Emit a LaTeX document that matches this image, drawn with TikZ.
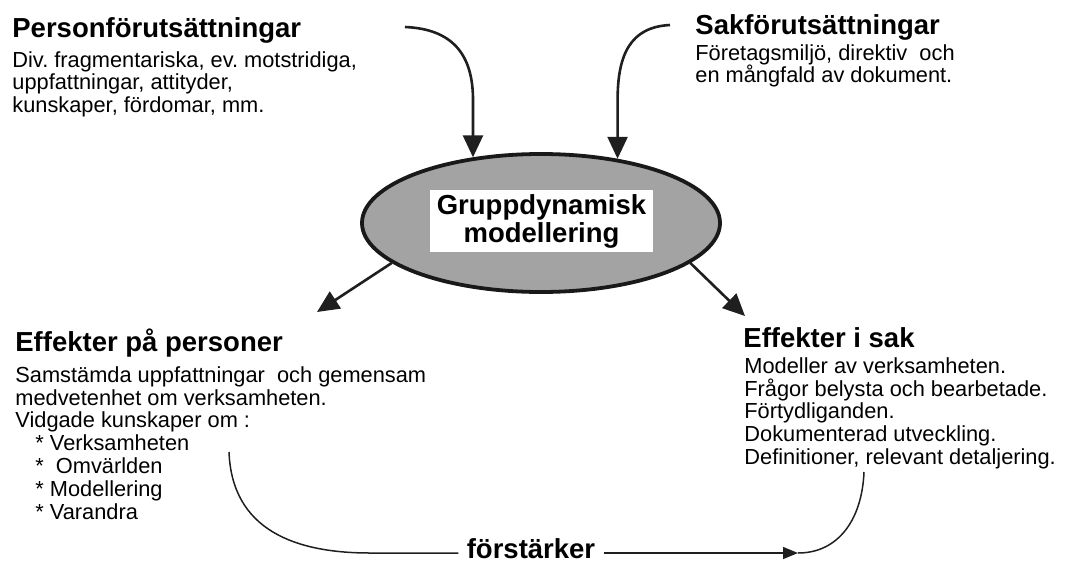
\documentclass[tikz,border=0pt]{standalone}
\usepackage{fontspec}
\setmainfont{Liberation Sans}
\usetikzlibrary{arrows.meta,shapes.geometric}
\frenchspacing
\begin{document}
\begin{tikzpicture}[x=0.5pt,y=-0.5pt,
  heading/.style={font=\fontsize{13.75}{16}\selectfont\bfseries, inner sep=0, anchor=base west},
  body/.style={font=\fontsize{10.9}{11.4}\selectfont, inner sep=0, anchor=north west, align=left},
  feed/.style={line width=1.3pt, draw=black!88, -{Triangle[width=10pt,length=11pt]}},
  loop/.style={line width=0.75pt, draw=black!88},
  core/.style={ellipse, draw=black!90, line width=1.9pt, fill=black!36,
    minimum width=179pt, minimum height=69pt, inner sep=0}
]
\useasboundingbox (0,0) rectangle (1065,562);

% inputs
\node[heading] (ph) at (12,37) {Personförutsättningar};
\node[body] (pb) at (12,51) {Div. fragmentariska, ev. motstridiga,\\uppfattningar, attityder,\\kunskaper, fördomar, mm.};
\node[heading] (sh) at (695,34) {Sakförutsättningar};
\node[body] (sb) at (695,44) {Företagsmiljö, direktiv\ \ och\\en mångfald av dokument.};

% central activity
\node[core] (ell) at (541,223) {};
\node[fill=white, minimum width=111.5pt, minimum height=31pt, inner sep=0, align=center,
  font=\fontsize{13.75}{14}\selectfont\bfseries] (mid) at (541.5,221) {Gruppdynamisk\\modellering};

% outcomes
\node[heading] (eh) at (15,351) {Effekter på personer};
\node[body] (eb) at (15,366) {Samstämda uppfattningar\ \ och gemensam\\medvetenhet om verksamheten.\\Vidgade kunskaper om :\\
\hspace*{10pt}* Verksamheten\\\hspace*{10pt}*\ \ Omvärlden\\\hspace*{10pt}* Modellering\\\hspace*{10pt}* Varandra};
\node[heading] (sk) at (743,347) {Effekter i sak};
\node[body] (skb) at (744,357) {Modeller av verksamheten.\\Frågor belysta och bearbetade.\\Förtydliganden.\\Dokumenterad utveckling.\\Definitioner, relevant detaljering.};

\node[heading, anchor=base, inner xsep=4pt] (fs) at (531,558) {förstärker};

% arrows into and out of the ellipse
\coordinate (pin) at (405,27);
\coordinate (sin) at (670,25);
\coordinate (pout) at (317,312);
\coordinate (sout) at (745,316);
\draw[feed] (pin) .. controls (453,29) and (473,55) .. (473,100) -- (ell.136);
\draw[feed] (sin) .. controls (630,27) and (617.6,55) .. (617.6,100) -- (ell.40);
\draw[feed] (ell.195) -- (pout);
\draw[feed] (ell.-15) -- (sout);

% reinforcing loop
\coordinate (lc) at (229,452);
\coordinate (rc) at (798,553);
\coordinate (rt) at (864,472);
\draw[loop] (lc) .. controls (232,530) and (295,553) .. (370,553) -- (fs.west |- 370,553);
\draw[loop, -{Triangle[width=6pt,length=7.5pt]}] (fs.east |- 0,553) -- (rc);
\draw[loop] (rc) .. controls (838,553) and (862,520) .. (rt);
\end{tikzpicture}
\end{document}
